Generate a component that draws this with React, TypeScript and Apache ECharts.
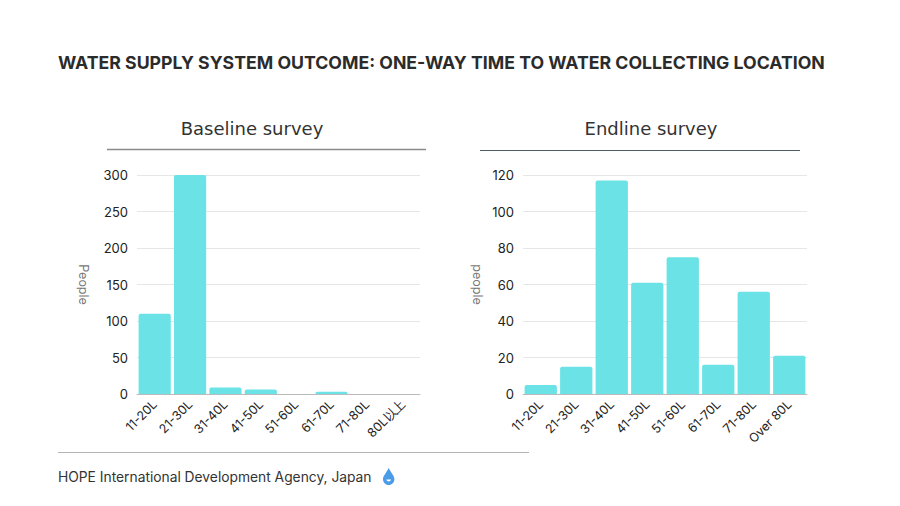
import React, { useEffect, useRef } from "react";
import * as echarts from "echarts";

const categoriesBaseline = ["11-20L", "21-30L", "31-40L", "41-50L", "51-60L", "61-70L", "71-80L", "80L以上"];
const valuesBaseline = [110, 300, 9, 6, 0, 3, 0, 0];
const categoriesEndline = ["11-20L", "21-30L", "31-40L", "41-50L", "51-60L", "61-70L", "71-80L", "Over 80L"];
const valuesEndline = [5, 15, 117, 61, 75, 16, 56, 21];

const TITLE = "WATER SUPPLY SYSTEM OUTCOME: ONE-WAY TIME TO WATER COLLECTING LOCATION";
const FOOTER = "HOPE International Development Agency, Japan";
const FONT = "Inter, 'Noto Sans', sans-serif";
const SUBFONT = "'DejaVu Sans', Inter, sans-serif";
const BAR = "#6be3e6";

echarts.graphic.registerShape(
  "drop",
  echarts.graphic.extendPath(
    "M6 0 C4 4 0 8 0 11 C0 14.5 2.7 17 6 17 C9.3 17 12 14.5 12 11 C12 8 8 4 6 0 Z",
    {}
  )
);
echarts.graphic.registerShape(
  "smile",
  echarts.graphic.extendPath("M3.5 11.5 C4 14 8 14 8.5 11.5 Z", {})
);

export default function App() {
  const ref = useRef<HTMLDivElement>(null);
  useEffect(() => {
    const chart = echarts.init(ref.current!, null, { renderer: "svg" });
    const yAxisCommon = {
      type: "value" as const,
      nameLocation: "middle" as const,
      nameRotate: -90,
      nameTextStyle: { color: "#777", fontSize: 12.5, fontFamily: FONT },
      axisLine: { show: false },
      axisTick: { show: false },
      axisLabel: { color: "#222", fontSize: 13, fontFamily: FONT, margin: 9 },
      splitLine: { lineStyle: { color: "#e6e6e6" } },
    };
    const xAxisCommon = {
      type: "category" as const,
      axisLine: { lineStyle: { color: "#bbb" } },
      axisTick: { show: false },
      axisLabel: { color: "#222", fontSize: 12.5, fontFamily: FONT, rotate: 45, interval: 0, margin: 8 },
    };
    chart.setOption({
      animation: false,
      backgroundColor: "#fff",
      grid: [
        { left: 137, right: 480, top: 175, bottom: 112 },
        { left: 523, right: 93, top: 175, bottom: 112 },
      ],
      xAxis: [
        { ...xAxisCommon, gridIndex: 0, data: categoriesBaseline },
        { ...xAxisCommon, gridIndex: 1, data: categoriesEndline },
      ],
      yAxis: [
        { ...yAxisCommon, gridIndex: 0, min: 0, max: 300, interval: 50, name: "People", nameGap: 47 },
        { ...yAxisCommon, gridIndex: 1, min: 0, max: 120, interval: 20, name: "people", nameGap: 39 },
      ],
      series: [
        {
          type: "bar",
          xAxisIndex: 0,
          yAxisIndex: 0,
          data: valuesBaseline,
          barCategoryGap: "9%",
          itemStyle: { color: BAR, borderRadius: [2, 2, 0, 0] },
        },
        {
          type: "bar",
          xAxisIndex: 1,
          yAxisIndex: 1,
          data: valuesEndline,
          barCategoryGap: "9%",
          itemStyle: { color: BAR, borderRadius: [2, 2, 0, 0] },
        },
      ],
      graphic: [
        {
          type: "text",
          left: 58,
          top: 53,
          style: { text: TITLE, fill: "#2b2b2b", font: `bold 17.7px ${FONT}` },
        },
        {
          type: "text",
          x: 252,
          y: 128,
          style: { text: "Baseline survey", fill: "#333", font: `18px ${SUBFONT}`, align: "center", verticalAlign: "middle" },
        },
        {
          type: "text",
          x: 651,
          y: 128,
          style: { text: "Endline survey", fill: "#333", font: `18px ${SUBFONT}`, align: "center", verticalAlign: "middle" },
        },
        { type: "line", shape: { x1: 107, y1: 149.5, x2: 426, y2: 149.5 }, style: { stroke: "#8a8a8a", lineWidth: 1.5 } },
        { type: "line", shape: { x1: 480, y1: 150.5, x2: 800, y2: 150.5 }, style: { stroke: "#4f5d6b", lineWidth: 1.2 } },
        { type: "line", shape: { x1: 58, y1: 452.5, x2: 529, y2: 452.5 }, style: { stroke: "#b5b5b5", lineWidth: 1.2 } },
        {
          type: "text",
          x: 58,
          y: 477,
          style: { text: FOOTER, fill: "#333", font: `13.8px ${FONT}`, verticalAlign: "middle" },
        },
        { type: "drop", x: 383, y: 468, scaleX: 0.95, scaleY: 1.0, style: { fill: "#4a9be8" } },
        { type: "smile", x: 383, y: 468, scaleX: 0.95, scaleY: 1.0, style: { fill: "#ffffff" } },
      ],
    });
    return () => chart.dispose();
  }, []);
  return (
    <div
      ref={ref}
      style={{ position: "fixed", left: 0, top: 0, width: 900, height: 506, background: "#fff" }}
    />
  );
}
